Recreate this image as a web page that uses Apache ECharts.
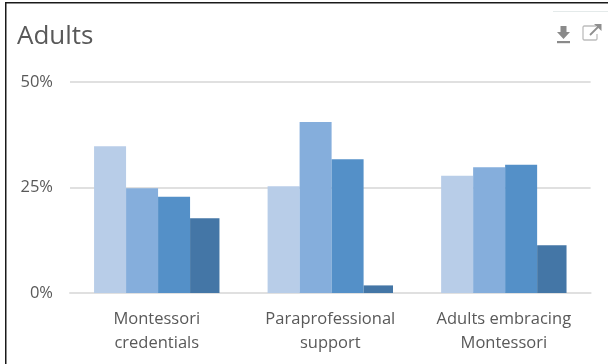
<!DOCTYPE html>
<html>
<head>
<meta charset="utf-8">
<style>html,body{margin:0;padding:0;background:#fff}#chart{width:608px;height:364px}</style>
<script src="https://cdn.jsdelivr.net/npm/echarts@6/dist/echarts.min.js"></script>
</head>
<body>
<div id="chart"></div>
<script>
// Adults survey results, in percent, one array per response level
const categories = ['Montessori\ncredentials', 'Paraprofessional\nsupport', 'Adults embracing\nMontessori'];
const level1 = [34.8, 25.3, 27.8];
const level2 = [24.8, 40.5, 29.8];
const level3 = [22.8, 31.7, 30.4];
const level4 = [17.7, 1.8, 11.3];
const colors = ['#b8cde8', '#85aedc', '#5490c8', '#4476a6'];
const barWidths = [32, 32, 32, 29.4];
const fontName = '"Open Sans", sans-serif';

const chart = echarts.init(document.getElementById('chart'), null, {renderer: 'canvas'});
chart.setOption({
  animation: false,
  backgroundColor: '#fff',
  title: {
    text: 'Adults', left: 12, top: 19,
    textStyle: {fontFamily: fontName, fontSize: 26, fontWeight: 'normal', color: '#595959'}
  },
  grid: {left: 70, top: 82, width: 520.6, height: 211},
  xAxis: {
    type: 'category',
    data: categories,
    axisTick: {show: false},
    axisLine: {lineStyle: {color: '#e0e0e0', width: 2}},
    axisLabel: {
      margin: 14, lineHeight: 24, interval: 0,
      fontFamily: fontName, fontSize: 16.5, color: '#595959'
    }
  },
  yAxis: {
    type: 'value', min: 0, max: 50, interval: 25,
    axisLine: {show: false},
    axisTick: {show: false},
    splitLine: {lineStyle: {color: '#e0e0e0', width: 2}},
    axisLabel: {
      margin: 17, formatter: '{value}%',
      fontFamily: fontName, fontSize: 16.5, color: '#595959'
    }
  },
  series: [level1, level2, level3, level4].map((values, i) => ({
    type: 'bar',
    data: values,
    barWidth: barWidths[i],
    barGap: 0,
    itemStyle: {color: colors[i]}
  })),
  graphic: [
    // frame edges and rule at the top right
    {type: 'rect', silent: true, shape: {x: 5, y: 2, width: 603, height: 1.5}, style: {fill: '#1a1a1a'}},
    {type: 'rect', silent: true, shape: {x: 5, y: 2, width: 1.5, height: 362}, style: {fill: '#1a1a1a'}},
    {type: 'rect', silent: true, shape: {x: 553, y: 11, width: 55, height: 1}, style: {fill: '#e4eaea'}},
    // download icon
    {type: 'polygon', silent: true, shape: {points: [[560.5, 26], [566.5, 26], [566.5, 32], [570, 32], [563.5, 39], [557, 32], [560.5, 32]]}, style: {fill: '#8a8a8a'}},
    {type: 'rect', silent: true, shape: {x: 557, y: 41, width: 13, height: 2.2}, style: {fill: '#8a8a8a'}},
    // open-in-new icon
    {type: 'polyline', silent: true, shape: {points: [[596, 26], [584, 26], [583, 27], [583, 39], [584, 40], [596, 40], [597, 39], [597, 34]]}, style: {fill: 'none', stroke: '#bdbdbd', lineWidth: 1.3}},
    {type: 'line', silent: true, shape: {x1: 590, y1: 35, x2: 599, y2: 26}, style: {stroke: '#8f8f8f', lineWidth: 1.8}},
    {type: 'polygon', silent: true, shape: {points: [[594, 24], [601.5, 24], [601.5, 31]]}, style: {fill: '#8f8f8f'}}
  ]
});
</script>
</body>
</html>
